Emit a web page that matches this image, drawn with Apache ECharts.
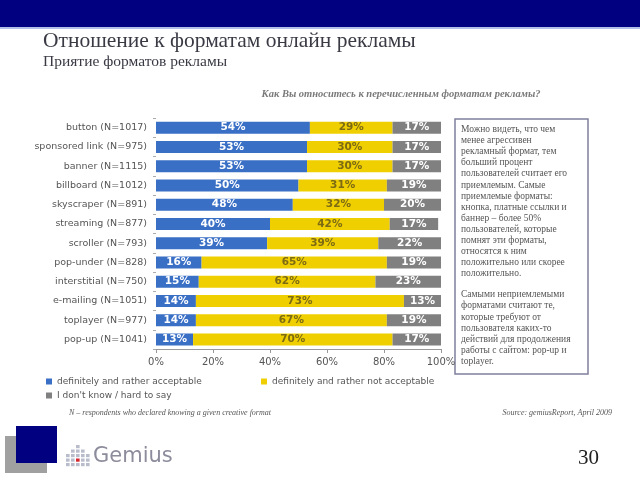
<!DOCTYPE html>
<html>
<head>
<meta charset="utf-8">
<script src="https://cdn.jsdelivr.net/npm/echarts@6/dist/echarts.min.js"></script>
<style>html,body{margin:0;padding:0;background:#fff}#c{width:640px;height:480px}</style>
</head>
<body>
<div id="c"></div>
<script>
const categories = ['button (N=1017)','sponsored link (N=975)','banner (N=1115)','billboard (N=1012)','skyscraper (N=891)','streaming (N=877)','scroller (N=793)','pop-under (N=828)','interstitial (N=750)','e-mailing (N=1051)','toplayer (N=977)','pop-up (N=1041)'];
const acceptable = [54,53,53,50,48,40,39,16,15,14,14,13];
const notAcceptable = [29,30,30,31,32,42,39,65,62,73,67,70];
const dontKnow = [17,17,17,19,20,17,22,19,23,13,19,17];
const xTicks = ['0%','20%','40%','60%','80%','100%'];
const seriesNames = ['definitely and rather acceptable','definitely and rather not acceptable',"I don't know / hard to say"];

const chart = echarts.init(document.getElementById('c'));
const labelBase = {show:true, position:'inside', fontFamily:'DejaVu Sans', fontWeight:'bold', fontSize:10.5, formatter:'{c}%'};
const legendText = {fontFamily:'DejaVu Sans', fontSize:9, color:'#555'};
const sans = 'DejaVu Sans';

const dotRects = [];
const cols = [[66,3],[71,4],[76,5],[81,4],[86,3]];
cols.forEach((c, ci) => {
  for (let r = 0; r < c[1]; r++) {
    const red = (ci === 2 && r === 1);
    dotRects.push({type:'rect', shape:{x:c[0], y:463 - r*4.5, width:3.6, height:3.2}, style:{fill: red ? '#d8252c' : '#b8bccb'}});
  }
});

chart.setOption({
  animation:false,
  grid:{left:156, top:118, width:285, height:231, containLabel:false},
  xAxis:{type:'value', min:0, max:100, interval:20,
    axisLine:{show:true, lineStyle:{color:'#999'}},
    axisTick:{show:true, length:4, lineStyle:{color:'#999'}},
    splitLine:{show:false},
    axisLabel:{fontFamily:sans, fontSize:10, color:'#555', margin:8, formatter:(v)=>xTicks[Math.round(v/20)]}
  },
  yAxis:{type:'category', data:categories, inverse:true,
    axisLine:{show:false},
    axisTick:{show:true, length:3, inside:false, lineStyle:{color:'#aaa'}},
    axisLabel:{fontFamily:sans, fontSize:9.5, color:'#555', margin:9}
  },
  legend:[
    {data:[seriesNames[0]], left:41, top:372, itemWidth:6, itemHeight:6, itemGap:8, icon:'rect', textStyle:legendText, selectedMode:false},
    {data:[seriesNames[1]], left:256, top:372, itemWidth:6, itemHeight:6, icon:'rect', textStyle:legendText, selectedMode:false},
    {data:[seriesNames[2]], left:41, top:386, itemWidth:6, itemHeight:6, icon:'rect', textStyle:legendText, selectedMode:false}
  ],
  series:[
    {name:seriesNames[0], type:'bar', stack:'t', data:acceptable, barWidth:12, itemStyle:{color:'#3a6fc6'}, label:Object.assign({}, labelBase, {color:'#fff'})},
    {name:seriesNames[1], type:'bar', stack:'t', data:notAcceptable, barWidth:12, itemStyle:{color:'#f0cf00'}, label:Object.assign({}, labelBase, {color:'#7d6b14'})},
    {name:seriesNames[2], type:'bar', stack:'t', data:dontKnow, barWidth:12, itemStyle:{color:'#808080'}, label:Object.assign({}, labelBase, {color:'#fff'})}
  ],
  graphic:[
    {type:'rect', shape:{x:0, y:0, width:640, height:27}, style:{fill:'#000080'}},
    {type:'rect', shape:{x:0, y:27, width:640, height:2}, style:{fill:'#b3c0ea'}},
    {type:'text', left:43, top:30, style:{text:'Отношение к форматам онлайн рекламы', font:'21.5px "Liberation Serif"', fill:'#3a3a45'}},
    {type:'text', left:43, top:54, style:{text:'Приятие форматов рекламы', font:'15.5px "Liberation Serif"', fill:'#3a3a45'}},
    {type:'text', x:401, y:94, style:{text:'Как Вы относитесь к перечисленным форматам рекламы?', font:'italic bold 10.5px "Liberation Serif"', fill:'#7a7a7a', align:'center', verticalAlign:'middle'}},
    {type:'rect', shape:{x:455, y:119, width:133, height:255}, style:{fill:'#fff', stroke:'#7f7f9c', lineWidth:1.5}},
    {type:'text', x:461, y:124, style:{text:'Можно видеть, что чем\nменее агрессивен\nрекламный формат, тем\nбольший процент\nпользователей считает его\nприемлемым. Самые\nприемлемые форматы:\nкнопка, платные ссылки и\nбаннер – более 50%\nпользователей, которые\nпомнят эти форматы,\nотносятся к ним\nположительно или скорее\nположительно.', font:'9.5px "Liberation Serif"', lineHeight:11.1, fill:'#555'}},
    {type:'text', x:461, y:289, style:{text:'Самыми неприемлемыми\nформатами считают те,\nкоторые требуют от\nпользователя каких-то\nдействий для продолжения\nработы с сайтом: pop-up и\ntoplayer.', font:'9.5px "Liberation Serif"', lineHeight:11.2, fill:'#555'}},
    {type:'text', x:69, y:413, style:{text:'N – respondents who declared knowing a given creative format', font:'italic 8px "Liberation Serif"', fill:'#555', verticalAlign:'middle'}},
    {type:'text', x:612, y:413, style:{text:'Source: gemiusReport, April 2009', font:'italic 8px "Liberation Serif"', fill:'#555', align:'right', verticalAlign:'middle'}},
    {type:'rect', shape:{x:5, y:436, width:42, height:37}, style:{fill:'#a0a0a0'}},
    {type:'rect', shape:{x:16, y:426, width:41, height:37}, style:{fill:'#000080'}},
    {type:'group', children:dotRects},
    {type:'text', x:93, y:457, style:{text:'Gemius', font:'21px "DejaVu Sans"', fill:'#8c8c9c', verticalAlign:'middle'}},
    {type:'text', x:599, y:458, style:{text:'30', font:'21px "Liberation Serif"', fill:'#222', align:'right', verticalAlign:'middle'}}
  ]
});
</script>
</body>
</html>
